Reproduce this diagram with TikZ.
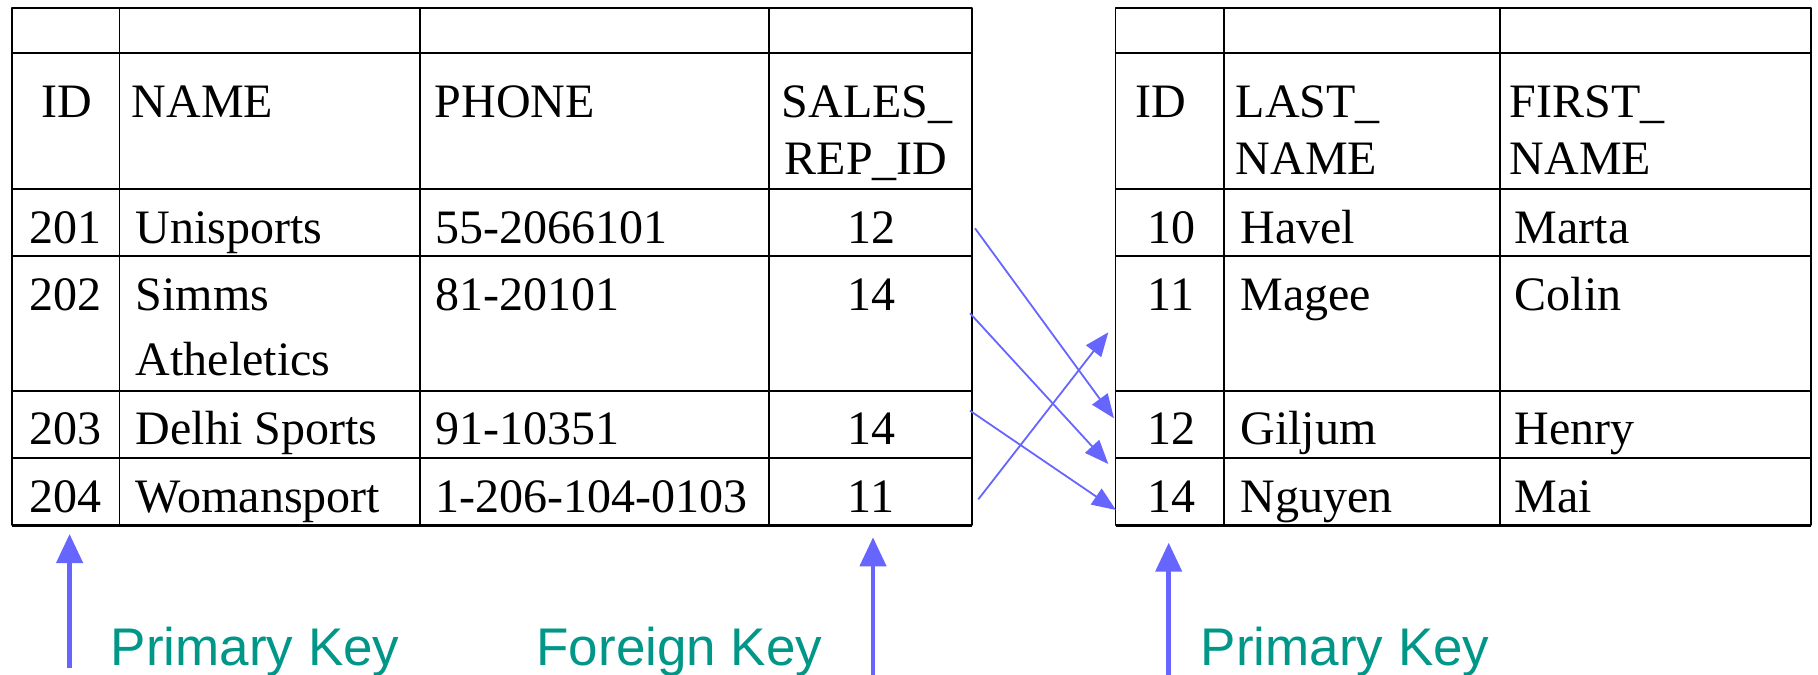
\documentclass[tikz,border=0pt]{standalone}
\usepackage{fontspec}
\setmainfont{Liberation Serif}
\setsansfont{Liberation Sans}
\usetikzlibrary{arrows.meta}
\definecolor{linkcol}{RGB}{102,102,255}
\definecolor{keycol}{RGB}{0,150,136}
\begin{document}
\begin{tikzpicture}[>={Triangle[length=24bp,width=19bp]},line join=bevel,
  cellc/.style={font=\fontsize{48bp}{56bp}\selectfont, inner sep=0pt, anchor=base},
  celll/.style={font=\fontsize{48bp}{56bp}\selectfont, inner sep=0pt, anchor=base west},
  keylbl/.style={font=\sffamily\fontsize{53bp}{60bp}\selectfont, text=keycol, inner sep=0pt, anchor=base west},
  link/.style={draw=linkcol, line width=1.8bp, ->},
  bigarrow/.style={draw=linkcol, line width=4.5bp, -{Triangle[length=29bp,width=26bp]}} ]
  \useasboundingbox (0bp,0bp) rectangle (1818bp,-675bp);
  \pgfsetlinewidth{1.8bp}
%%
\pgfsetcolor{black}
  % Table: customers
  \draw (11.7bp,-8.3bp) rectangle (971.6bp,-525.2bp);
  \draw (119.4bp,-8.3bp) -- (119.4bp,-525.2bp);
  \draw (419.7bp,-8.3bp) -- (419.7bp,-525.2bp);
  \draw (768.7bp,-8.3bp) -- (768.7bp,-525.2bp);
  \draw (11.7bp,-53.3bp) -- (971.6bp,-53.3bp);
  \draw (11.7bp,-189bp) -- (971.6bp,-189bp);
  \draw (11.7bp,-256bp) -- (971.6bp,-256bp);
  \draw (11.7bp,-390.7bp) -- (971.6bp,-390.7bp);
  \draw (11.7bp,-457.8bp) -- (971.6bp,-457.8bp);
  \draw [line width=2.6bp] (11.7bp,-525.2bp) -- (971.6bp,-525.2bp);
  % Table: employees
  \draw (1115.5bp,-8.3bp) rectangle (1811bp,-525.2bp);
  \draw (1224bp,-8.3bp) -- (1224bp,-525.2bp);
  \draw (1500bp,-8.3bp) -- (1500bp,-525.2bp);
  \draw (1115.5bp,-53.3bp) -- (1811bp,-53.3bp);
  \draw (1115.5bp,-189bp) -- (1811bp,-189bp);
  \draw (1115.5bp,-256bp) -- (1811bp,-256bp);
  \draw (1115.5bp,-390.7bp) -- (1811bp,-390.7bp);
  \draw (1115.5bp,-457.8bp) -- (1811bp,-457.8bp);
  \draw [line width=2.6bp] (1115.5bp,-525.2bp) -- (1811bp,-525.2bp);
  % Header: customers
  \draw (67bp,-117bp) node [cellc] (cid) {ID};
  \draw (131bp,-117bp) node [celll] (cname) {NAME};
  \draw (434bp,-117bp) node [celll] (cphone) {PHONE};
  \draw (867bp,-117bp) node [cellc] (crep1) {SALES\_};
  \draw (866bp,-174bp) node [cellc] (crep2) {REP\_ID};
  % Rows: customers
  \draw (65bp,-243.5bp) node [cellc] (c201) {201};
  \draw (135bp,-243.5bp) node [celll] (n201) {Unisports};
  \draw (435bp,-243.5bp) node [celll] (p201) {55-2066101};
  \draw (871bp,-243.5bp) node [cellc] (r201) {12};
  \draw (65bp,-310bp) node [cellc] (c202) {202};
  \draw (135bp,-310bp) node [celll] (n202) {Simms};
  \draw (135bp,-375bp) node [celll] (n202b) {Atheletics};
  \draw (435bp,-310bp) node [celll] (p202) {81-20101};
  \draw (871bp,-310bp) node [cellc] (r202) {14};
  \draw (65bp,-444bp) node [cellc] (c203) {203};
  \draw (135bp,-444bp) node [celll] (n203) {Delhi Sports};
  \draw (435bp,-444bp) node [celll] (p203) {91-10351};
  \draw (871bp,-444bp) node [cellc] (r203) {14};
  \draw (65bp,-512bp) node [cellc] (c204) {204};
  \draw (135bp,-512bp) node [celll] (n204) {Womansport};
  \draw (435bp,-512bp) node [celll] (p204) {1-206-104-0103};
  \draw (871bp,-512bp) node [cellc] (r204) {11};
  % Header: employees
  \draw (1161bp,-117bp) node [cellc] (eid) {ID};
  \draw (1235bp,-117bp) node [celll] (elast1) {LAST\_};
  \draw (1235bp,-174bp) node [celll] (elast2) {NAME};
  \draw (1509bp,-117bp) node [celll] (efirst1) {FIRST\_};
  \draw (1509bp,-174bp) node [celll] (efirst2) {NAME};
  % Rows: employees
  \draw (1171bp,-243.5bp) node [cellc] (e10) {10};
  \draw (1239.5bp,-243.5bp) node [celll] (l10) {Havel};
  \draw (1514bp,-243.5bp) node [celll] (f10) {Marta};
  \draw (1171bp,-310bp) node [cellc] (e11) {11};
  \draw (1239.5bp,-310bp) node [celll] (l11) {Magee};
  \draw (1514bp,-310bp) node [celll] (f11) {Colin};
  \draw (1171bp,-444bp) node [cellc] (e12) {12};
  \draw (1239.5bp,-444bp) node [celll] (l12) {Giljum};
  \draw (1514bp,-444bp) node [celll] (f12) {Henry};
  \draw (1171bp,-512bp) node [cellc] (e14) {14};
  \draw (1239.5bp,-512bp) node [celll] (l14) {Nguyen};
  \draw (1514bp,-512bp) node [celll] (f14) {Mai};
  % Links: sales rep -> employee
  \coordinate (s201) at (975bp,-228.3bp);
  \coordinate (t12) at (1114bp,-418.3bp);
  \coordinate (s202) at (970bp,-313.3bp);
  \coordinate (t14a) at (1108.3bp,-464bp);
  \coordinate (s203) at (970bp,-410.7bp);
  \coordinate (t14b) at (1116bp,-510bp);
  \coordinate (s204) at (978.3bp,-499.3bp);
  \coordinate (t11) at (1108.3bp,-332.3bp);
  \draw [link] (s201) -- (t12);
  \draw [link] (s202) -- (t14a);
  \draw [link] (s203) -- (t14b);
  \draw [link] (s204) -- (t11);
  % Keys
  \coordinate (pk1foot) at (69.6bp,-668bp);
  \coordinate (pk1head) at (69.6bp,-534bp);
  \coordinate (fkfoot) at (873bp,-675bp);
  \coordinate (fkhead) at (873bp,-537.3bp);
  \coordinate (pk2foot) at (1168.7bp,-675bp);
  \coordinate (pk2head) at (1168.7bp,-542.7bp);
  \draw [bigarrow] (pk1foot) -- (pk1head);
  \draw [bigarrow] (fkfoot) -- (fkhead);
  \draw [bigarrow] (pk2foot) -- (pk2head);
  \draw (110bp,-665.7bp) node [keylbl] (pk1) {Primary Key};
  \draw (535.6bp,-665.7bp) node [keylbl] (fk) {Foreign Key};
  \draw (1200bp,-665.7bp) node [keylbl] (pk2) {Primary Key};
%
\end{tikzpicture}
\end{document}
